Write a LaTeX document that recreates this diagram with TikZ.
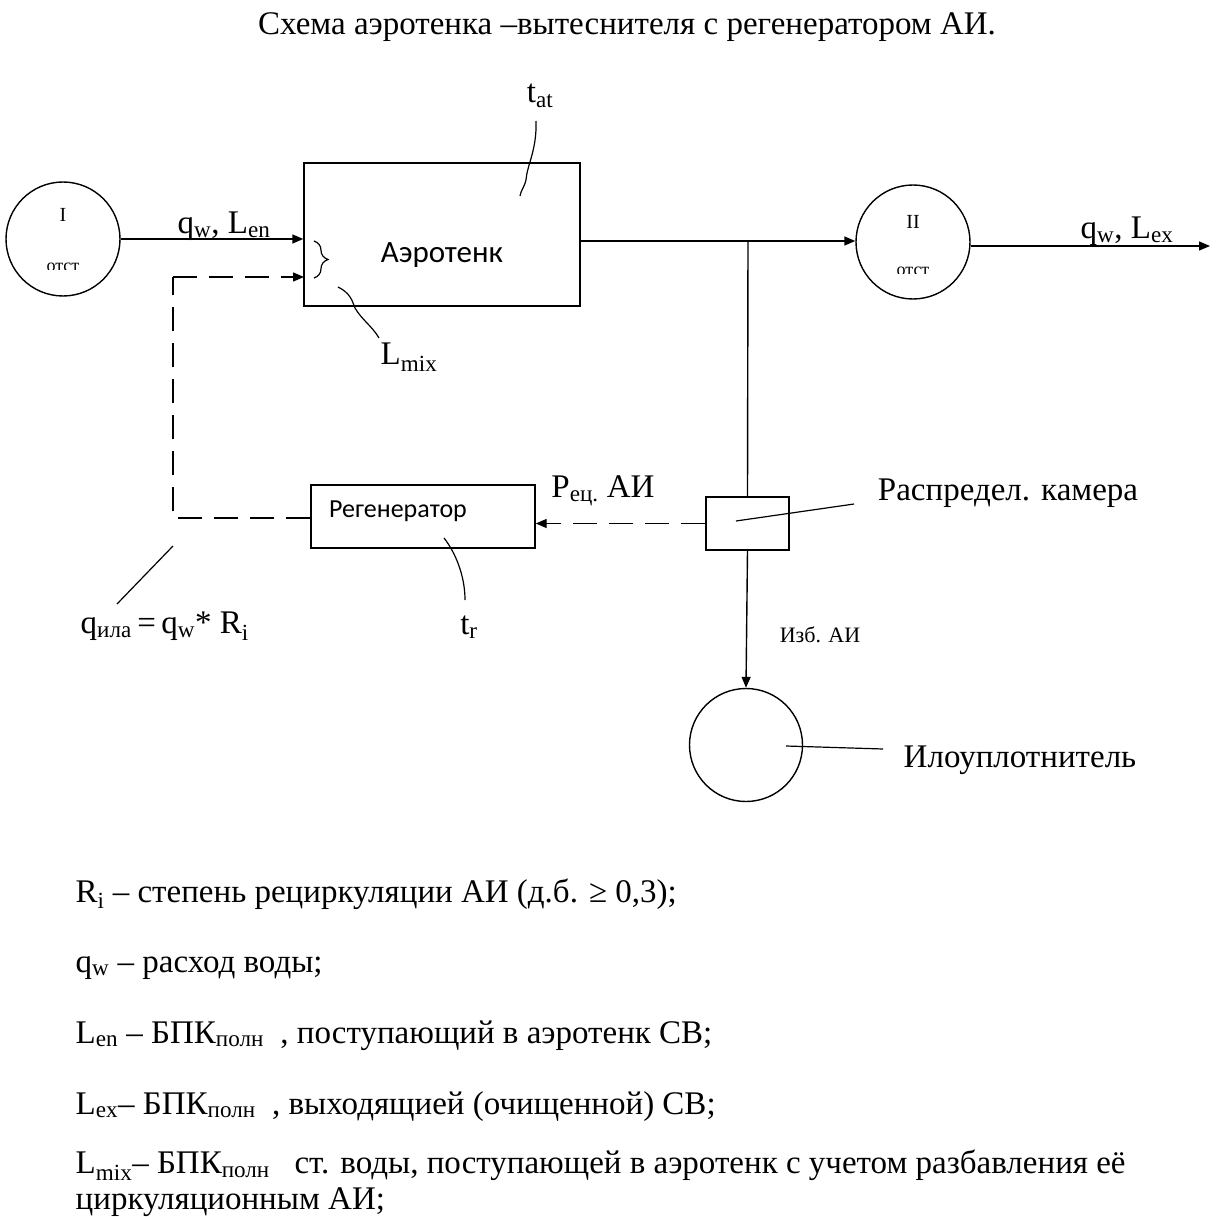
\documentclass[tikz,border=0pt]{standalone}
\usepackage{fontspec}
\setmainfont{Liberation Serif}
\newfontfamily\calfont{Carlito}
\usetikzlibrary{arrows.meta,decorations.pathreplacing}
\begin{document}
\begin{tikzpicture}[x=1pt,y=-1pt,
  line width=1.4pt,
  flow/.style={-{Triangle[length=11pt,width=9pt]}},
  dsh/.style={dash pattern=on 24pt off 12pt},
  box/.style={draw,line width=1.4pt,inner sep=0pt},
  circ/.style={draw,circle,line width=1.4pt,inner sep=0pt},
  lbl/.style={font=\fontsize{33}{36}\selectfont,inner sep=0pt},
  lblsm/.style={font=\fontsize{22}{26}\selectfont,inner sep=0pt},
  legend/.style={font=\fontsize{33}{36}\selectfont,inner sep=0pt,anchor=base west},
  leader/.style={line width=1.2pt}
]
\useasboundingbox (0,0) rectangle (1219,1217);
\fill[white] (0,0) rectangle (1219,1217);

% title
\node[lbl] (title) at (627,27) {Схема аэротенка –вытеснителя с регенератором АИ.};

% main units
\node[circ,minimum size=114pt] (c1) at (63,239) {};
\node[lblsm,font=\fontsize{20}{24}\selectfont] (c1a) at (63,215) {I};
\begin{scope}
\clip (20,255) rectangle (106,269.5);
\node[inner sep=0pt,font=\fontsize{18}{20}\selectfont] (c1b) at (63,267) {отст};
\end{scope}

\node[box,minimum width=276pt,minimum height=143pt] (aer) at (442,234.5) {};
\node[inner sep=0pt,font=\calfont\fontsize{31}{34}\selectfont] (aert) at (442,255) {Аэротенк};

\node[circ,minimum size=114pt] (c2) at (913,242) {};
\node[lblsm,font=\fontsize{20}{24}\selectfont] (c2a) at (913,222) {II};
\begin{scope}
\clip (870,259) rectangle (956,273.5);
\node[inner sep=0pt,font=\fontsize{18}{20}\selectfont] (c2b) at (913,271) {отст};
\end{scope}

\node[box,minimum width=83pt,minimum height=53pt] (cam) at (747.5,523.5) {};
\node[box,minimum width=224pt,minimum height=63pt] (reg) at (423,516.5) {};
\node[inner sep=0pt,font=\calfont\fontsize{26}{30}\selectfont] (regt) at (398,511) {Регенератор};

\node[circ,minimum size=113pt] (sep) at (746,745) {};

% coordinates
\coordinate (in1) at (aer.west |- c1.east);
\coordinate (in2) at (304,277);
\coordinate (rc1) at (173,277);
\coordinate (rc2) at (173,518);
\coordinate (br) at (748,241);
\coordinate (outE) at (1210,246);

% flows
\draw[flow] (c1.east) -- (in1);
\node[lbl] (l1) at (224,226) {q\textsubscript{w}, L\textsubscript{en}};
\draw[flow] (aer.east |- br) -- (c2.west |- br);
\draw[flow] (c2.east |- outE) -- (outE);
\node[lbl] (l2) at (1127,231) {q\textsubscript{w}, L\textsubscript{ex}};
\draw (br) -- (cam.north);
\draw[flow] (cam.south) -- (sep.north);
\node[lblsm] (izb) at (820,635) {Изб. АИ};
\draw[flow,dsh] (cam.west) -- (reg.east |- cam.west);
\node[lbl] (rec) at (603,491) {P\textsubscript{ец.} АИ};
\draw[dsh] (reg.west |- rc2) -- (rc2) -- (rc1);
\draw[flow,dsh] (rc1) -- (in2);

% brace
\draw[leader,decorate,decoration={brace,amplitude=14pt,aspect=0.5}] (314,241) -- (314,278);

% leaders and labels
\node[lbl] (tat) at (540,96) {t\textsubscript{at}};
\draw[leader] (536,121) .. controls (537,150) and (527,165) .. (526,180) .. controls (524,188) and (521,190) .. (520,196);
\node[lbl] (lmix) at (409,357) {L\textsubscript{mix}};
\draw[leader] (338,287) .. controls (350,293) and (352,300) .. (355,308) .. controls (362,320) and (372,326) .. (379,338);
\node[lbl] (camt) at (1008,493) {Распредел. камера};
\draw[leader] (736,521) -- (854,504);
\node[lbl] (sept) at (1020,760) {Илоуплотнитель};
\draw[leader] (786,746) -- (883,749);
\node[lbl] (tr) at (469,627) {t\textsubscript{r}};
\draw[leader] (444,538) .. controls (455,552) and (465,575) .. (465,600);
\node[lbl,anchor=west] (qila) at (80,626) {q\textsubscript{ила}\,=\,q\textsubscript{w}*~R\textsubscript{i}};
\draw[leader] (173,546) -- (117,604);

% legend
\node[legend] (g1) at (75,902) {R\textsubscript{i} – степень рециркуляции АИ (д.б. ≥ 0,3);};
\node[legend] (g2) at (75,972) {q\textsubscript{w} – расход воды;};
\node[legend] (g3) at (75,1043) {L\textsubscript{en} – БПК\textsubscript{полн}\ \ , поступающий в аэротенк СВ;};
\node[legend] (g4) at (75,1114) {L\textsubscript{ex}– БПК\textsubscript{полн}\ \ , выходящией (очищенной) СВ;};
\node[legend,anchor=north west,align=left] (g5) at (75,1149) {L\textsubscript{mix}– БПК\textsubscript{полн}\ \ \ ст. воды, поступающей в аэротенк с учетом разбавления её\\циркуляционным АИ;};
\end{tikzpicture}
\end{document}
